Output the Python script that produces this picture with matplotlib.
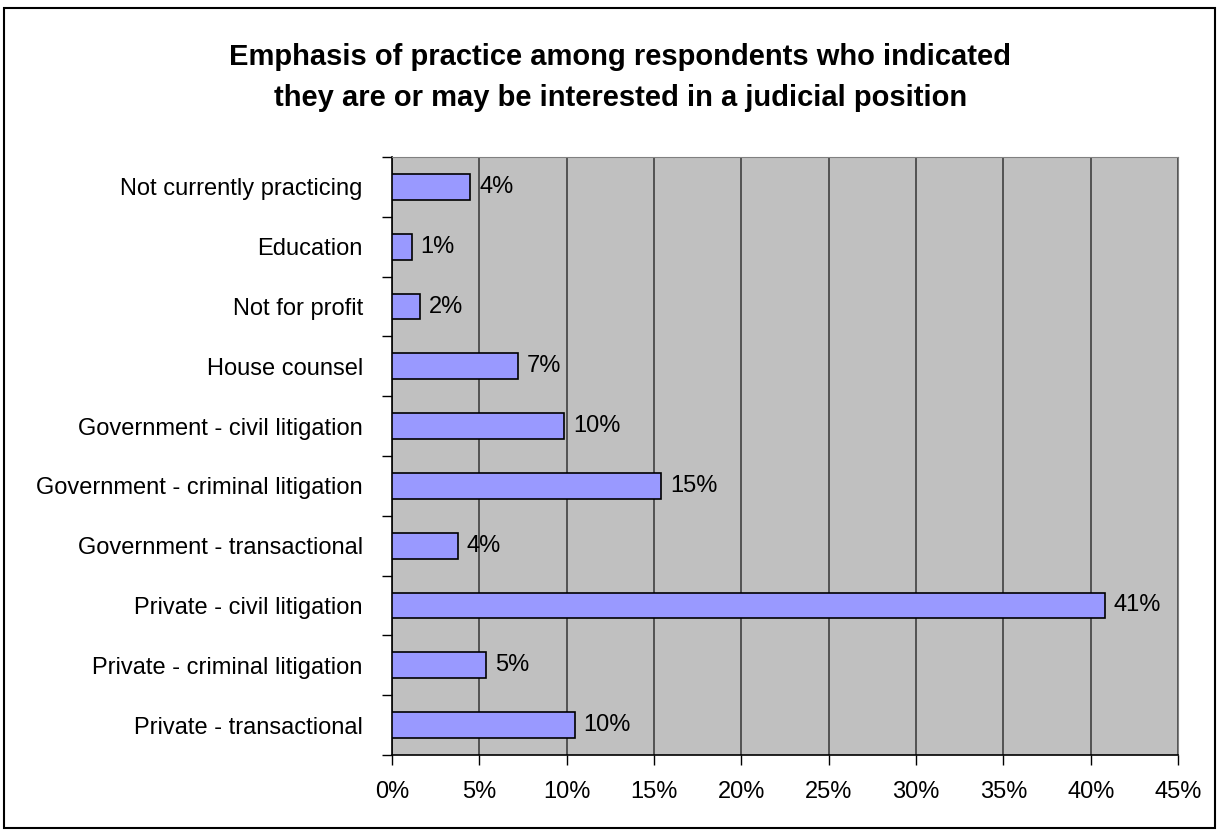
import matplotlib
matplotlib.use("Agg")
import matplotlib.pyplot as plt
from matplotlib.patches import Rectangle
import numpy as np

plt.rcParams['font.family'] = ['Liberation Sans', 'DejaVu Sans']

# categories from bottom to top
categories = ['Private - transactional', 'Private - criminal litigation',
              'Private - civil litigation', 'Government - transactional',
              'Government - criminal litigation', 'Government - civil litigation',
              'House counsel', 'Not for profit', 'Education',
              'Not currently practicing']
values = [10.47, 5.4, 40.8, 3.78, 15.4, 9.87, 7.24, 1.6, 1.13, 4.48]
labels = ['10%', '5%', '41%', '4%', '15%', '10%', '7%', '2%', '1%', '4%']
xticks = [0, 5, 10, 15, 20, 25, 30, 35, 40, 45]

fig = plt.figure(figsize=(12.19, 8.30), dpi=100)
fig.patches.append(Rectangle((0.003, 0.002), 0.994, 0.988, transform=fig.transFigure,
                             fill=False, edgecolor='black', linewidth=1.5))

ax = fig.add_axes([0.3216, 0.0904, 0.6448, 0.7204])
ax.set_facecolor('#C0C0C0')

y = np.arange(len(categories))
ax.barh(y, values, height=0.43, color='#9999FF', edgecolor='black', linewidth=1.2, zorder=3)
for yi, v, lab in zip(y, values, labels):
    ax.text(v + 0.5, yi, lab, va='center', ha='left', fontsize=17, zorder=4)

ax.set_xlim(0, 45)
ax.set_ylim(-0.5, len(categories) - 0.5)
ax.set_xticks(xticks)
ax.set_xticklabels([f'{t}%' for t in xticks], fontsize=17)
ax.set_yticks(y)
ax.set_yticklabels(categories, fontsize=17)
ax.tick_params(axis='y', length=0, pad=21)
ax.set_yticks(np.arange(len(categories) + 1) - 0.5, minor=True)
ax.tick_params(axis='y', which='minor', length=7, width=1, direction='out')
ax.tick_params(axis='x', length=7, width=1, direction='out', pad=12)

ax.grid(axis='x', color='#404040', linewidth=1.2, zorder=1)
ax.set_axisbelow(True)
for s in ['top', 'right']:
    ax.spines[s].set_color('#808080')
for s in ['left', 'bottom']:
    ax.spines[s].set_color('black')
    ax.spines[s].set_linewidth(1.2)

fig.text(0.509, 0.907, 'Emphasis of practice among respondents who indicated\n'
         'they are or may be interested in a judicial position',
         ha='center', va='center', fontsize=21, fontweight='bold', linespacing=1.6)

fig.savefig('out.png', dpi=100)
